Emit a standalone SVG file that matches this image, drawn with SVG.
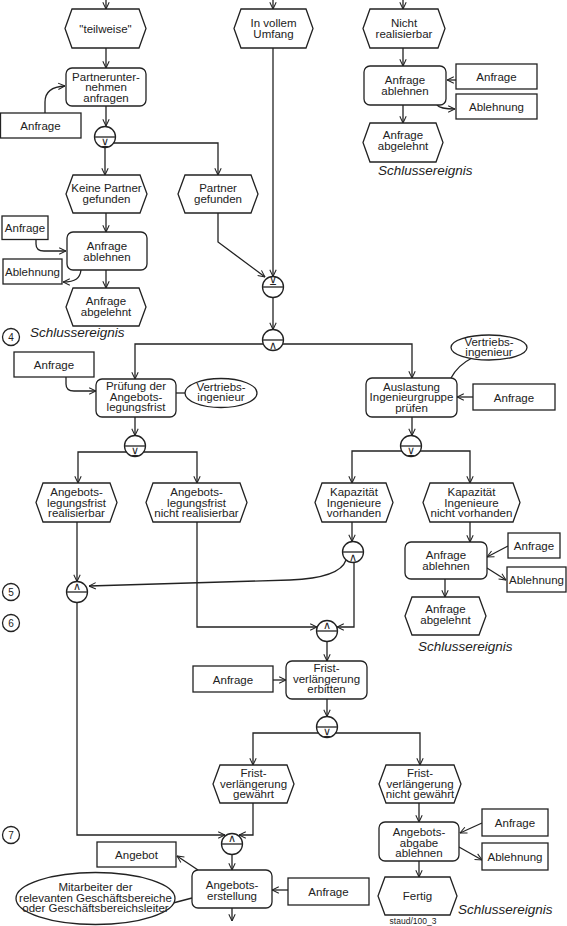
<svg xmlns="http://www.w3.org/2000/svg" width="567" height="926" viewBox="0 0 567 926">
<defs>
<marker id="a" viewBox="0 0 10 10" refX="9.5" refY="5" markerWidth="8" markerHeight="8" orient="auto" markerUnits="userSpaceOnUse"><path d="M1,1 L9.5,5 L1,9" fill="none" stroke="#222" stroke-width="1.3"/></marker>
</defs>
<style>
.s{fill:#fff;stroke:#222;stroke-width:1.3}
.t{font-family:"Liberation Sans",Arial,sans-serif;font-size:11.5px;fill:#222;text-anchor:middle}
.i{font-family:"Liberation Sans",Arial,sans-serif;font-size:13.5px;font-style:italic;fill:#222}
.c{fill:none;stroke:#222;stroke-width:1.3}
.ca{fill:none;stroke:#222;stroke-width:1.3;marker-end:url(#a)}
.sym{font-family:"DejaVu Sans",sans-serif;font-size:11px;fill:#222;text-anchor:middle}
.n{font-family:"Liberation Sans",Arial,sans-serif;font-size:10px;fill:#222;text-anchor:middle}
</style>
<rect width="567" height="926" fill="#fff"/>

<g id="connectors">
<path class="ca" d="M106,0 L106,9"/>
<path class="ca" d="M273,0 L273,9"/>
<path class="ca" d="M403,0 L403,9"/>
<path class="ca" d="M106,48 L106,68"/>
<path class="ca" d="M45,113 L45,102 Q45,87 65,86"/>
<path class="ca" d="M106,106 L106,126"/>
<path class="ca" d="M105,147.5 L105,175"/>
<path class="ca" d="M113.6,143 L218,143 L218,175"/>
<path class="ca" d="M106,213 L106,232"/>
<path class="ca" d="M36,240 L36,244 Q36,251 44,251 L66,251"/>
<path class="ca" d="M81,270 C80,278 76,282 63,282"/>
<path class="ca" d="M106,270 L106,288"/>
<path class="ca" d="M218,213 L218,242 L265,277"/>
<path class="ca" d="M273,48 L273,276.5"/>
<path class="ca" d="M273,297.5 L273,329.5"/>
<path class="ca" d="M263,344 L135,344 L135,379"/>
<path class="ca" d="M283,344 L412,344 L412,378"/>
<path class="ca" d="M66,377 L66,384 Q66,391 74,391 L96,391"/>
<path class="c" d="M176,393 L185,393"/>
<path class="ca" d="M135,417 L135,435.5"/>
<path class="ca" d="M126.4,452 L78,452 L78,483"/>
<path class="ca" d="M143.6,452 L197,452 L197,483"/>
<path class="c" d="M451,378 Q458,365 472,358"/>
<path class="ca" d="M473,397 L457,397"/>
<path class="ca" d="M412,417 L412,435.5"/>
<path class="ca" d="M402,451 L352,451 L352,483"/>
<path class="ca" d="M420,451 L470,451 L470,483"/>
<path class="ca" d="M352,522 L352,541.5"/>
<path class="ca" d="M346,560 Q340,578 290,580 L89,586"/>
<path class="ca" d="M77,522 L77,581.5"/>
<path class="ca" d="M197,522 L197,627 L317,627"/>
<path class="ca" d="M354,562.5 L354,627 L337,627"/>
<path class="ca" d="M470,522 L470,542"/>
<path class="ca" d="M508,546 L487,557"/>
<path class="ca" d="M487,568 L506,580"/>
<path class="ca" d="M445,579 L445,597"/>
<path class="ca" d="M327,641.5 L327,661"/>
<path class="ca" d="M273,680 L286,680"/>
<path class="ca" d="M327,699 L327,716.5"/>
<path class="ca" d="M318.4,733 L253,733 L253,765"/>
<path class="ca" d="M335.6,733 L420,733 L420,765"/>
<path class="ca" d="M77,602.5 L77,835 L225,835"/>
<path class="ca" d="M253,803 L253,835 L239,835"/>
<path class="ca" d="M232,854.5 L232,870"/>
<path class="ca" d="M198,870 L177,856"/>
<path class="c" d="M173,903 L192,898"/>
<path class="ca" d="M232,908 L232,921"/>
<path class="ca" d="M288,890 L272,890"/>
<path class="ca" d="M419,803 L419,822"/>
<path class="ca" d="M482,823 L460,833"/>
<path class="ca" d="M459,847 L482,860"/>
<path class="ca" d="M419,861 L419,877"/>
<path class="ca" d="M403,48 L403,66"/>
<path class="ca" d="M456,80 L447,80"/>
<path class="ca" d="M437,105 Q440,109 455,109"/>
<path class="ca" d="M403,105 L403,123"/>
</g>

<g id="ev-teilweise"><polygon class="s" points="65,28.5 72,9 139,9 146,28.5 139,48 72,48"/><text class="t" x="105.5" y="33">"teilweise"</text></g>
<g id="ev-vollem"><polygon class="s" points="234,28.5 241,9 306,9 313,28.5 306,48 241,48"/><text class="t" x="273.5" y="27">In vollem</text><text class="t" x="273.5" y="37.5">Umfang</text></g>
<g id="ev-nicht"><polygon class="s" points="363,28.5 370,9 438,9 445,28.5 438,48 370,48"/><text class="t" x="404" y="27">Nicht</text><text class="t" x="404" y="37.5">realisierbar</text></g>

<g id="fn-partner"><rect class="s" x="66" y="68" width="80" height="38" rx="6"/><text class="t" x="106" y="80.5">Partnerunter-</text><text class="t" x="106" y="91">nehmen</text><text class="t" x="106" y="101.5">anfragen</text></g>
<g id="in-anfrage1"><rect class="s" x="0.5" y="113" width="80.5" height="25"/><text class="t" x="40.5" y="130">Anfrage</text></g>

<g id="fn-ablehnen-r1"><rect class="s" x="364" y="66" width="82" height="39" rx="6"/><text class="t" x="405" y="84">Anfrage</text><text class="t" x="405" y="94.5">ablehnen</text></g>
<g id="in-anfrage-r1"><rect class="s" x="456" y="64" width="81" height="25"/><text class="t" x="496.5" y="81">Anfrage</text></g>
<g id="out-ablehnung-r1"><rect class="s" x="456" y="94" width="81" height="25"/><text class="t" x="496.5" y="111">Ablehnung</text></g>
<g id="ev-abgelehnt-r1"><polygon class="s" points="363,142.5 370,123 436,123 443,142.5 436,162 370,162"/><text class="t" x="403" y="139">Anfrage</text><text class="t" x="403" y="149.5">abgelehnt</text></g>
<text class="i" x="378" y="175">Schlussereignis</text>

<g id="xor-s1"><circle class="s" cx="105" cy="137" r="10.5"/><path class="c" d="M94.5,137 L115.5,137"/><text class="sym" x="105" y="146.5">⊻</text></g>

<g id="ev-keine"><polygon class="s" points="66,194 73,175 140,175 147,194 140,213 73,213"/><text class="t" x="106.5" y="192">Keine Partner</text><text class="t" x="106.5" y="202.5">gefunden</text></g>
<g id="ev-partner"><polygon class="s" points="178,194 185,175 251,175 258,194 251,213 185,213"/><text class="t" x="218" y="192">Partner</text><text class="t" x="218" y="202.5">gefunden</text></g>
<g id="in-anfrage2"><rect class="s" x="2" y="216" width="46" height="23.5"/><text class="t" x="25" y="231.5">Anfrage</text></g>
<g id="fn-ablehnen-l"><rect class="s" x="67" y="232" width="80" height="38" rx="6"/><text class="t" x="107" y="250">Anfrage</text><text class="t" x="107" y="260.5">ablehnen</text></g>
<g id="out-ablehnung-l"><rect class="s" x="3" y="259" width="59" height="25"/><text class="t" x="32.5" y="276">Ablehnung</text></g>
<g id="ev-abgelehnt-l"><polygon class="s" points="66,307 73,288 139,288 146,307 139,326 73,326"/><text class="t" x="106" y="305">Anfrage</text><text class="t" x="106" y="315.5">abgelehnt</text></g>
<text class="i" x="30" y="337">Schlussereignis</text>
<g id="mark4"><circle class="s" cx="11" cy="337" r="8.5"/><text class="n" x="11" y="340.5">4</text></g>

<g id="xor-j1"><circle class="s" cx="273" cy="287" r="10.5"/><path class="c" d="M262.5,287 L283.5,287"/><text class="sym" x="273" y="285">⊻</text></g>
<g id="and-s2"><circle class="s" cx="273" cy="340" r="10.5"/><path class="c" d="M262.5,340 L283.5,340"/><text class="sym" x="273" y="349">∧</text></g>

<g id="in-anfrage3"><rect class="s" x="14" y="352" width="80" height="25"/><text class="t" x="54" y="369">Anfrage</text></g>
<g id="fn-pruefung"><rect class="s" x="96" y="379" width="80" height="38" rx="6"/><text class="t" x="136" y="390">Prüfung der</text><text class="t" x="136" y="400.5">Angebots-</text><text class="t" x="136" y="411">legungsfrist</text></g>
<g id="org-vi1"><ellipse class="s" cx="221" cy="393" rx="36" ry="14.5"/><text class="t" x="221" y="390.5">Vertriebs-</text><text class="t" x="221" y="401">ingenieur</text></g>

<g id="org-vi2"><ellipse class="s" cx="489" cy="347.5" rx="38" ry="12.5"/><text class="t" x="489" y="345.5">Vertriebs-</text><text class="t" x="489" y="356">ingenieur</text></g>
<g id="fn-auslastung"><rect class="s" x="366" y="378" width="91" height="39" rx="6"/><text class="t" x="411.5" y="390.5">Auslastung</text><text class="t" x="411.5" y="401">Ingenieurgruppe</text><text class="t" x="411.5" y="411.5">prüfen</text></g>
<g id="in-anfrage4"><rect class="s" x="473" y="384" width="82" height="26"/><text class="t" x="514" y="401.5">Anfrage</text></g>

<g id="xor-s3"><circle class="s" cx="135" cy="446" r="10.5"/><path class="c" d="M124.5,446 L145.5,446"/><text class="sym" x="135" y="455.5">⊻</text></g>
<g id="xor-s4"><circle class="s" cx="411" cy="446" r="10.5"/><path class="c" d="M400.5,446 L421.5,446"/><text class="sym" x="411" y="455.5">⊻</text></g>

<g id="ev-realisierbar"><polygon class="s" points="36,502.5 43,483 110,483 117,502.5 110,522 43,522"/><text class="t" x="76.5" y="496">Angebots-</text><text class="t" x="76.5" y="506.5">legungsfrist</text><text class="t" x="76.5" y="517">realisierbar</text></g>
<g id="ev-nicht-realisierbar"><polygon class="s" points="146,502.5 153,483 240,483 247,502.5 240,522 153,522"/><text class="t" x="196.5" y="496">Angebots-</text><text class="t" x="196.5" y="506.5">legungsfrist</text><text class="t" x="196.5" y="517">nicht realisierbar</text></g>
<g id="ev-kap-vorh"><polygon class="s" points="315,502.5 322,483 386,483 393,502.5 386,522 322,522"/><text class="t" x="354" y="496">Kapazität</text><text class="t" x="354" y="506.5">Ingenieure</text><text class="t" x="354" y="517">vorhanden</text></g>
<g id="ev-kap-nicht"><polygon class="s" points="423,502.5 430,483 513,483 520,502.5 513,522 430,522"/><text class="t" x="471.5" y="496">Kapazität</text><text class="t" x="471.5" y="506.5">Ingenieure</text><text class="t" x="471.5" y="517">nicht vorhanden</text></g>

<g id="and-s5"><circle class="s" cx="353" cy="552" r="10.5"/><path class="c" d="M342.5,552 L363.5,552"/><text class="sym" x="353" y="561">∧</text></g>
<g id="fn-ablehnen-r2"><rect class="s" x="405" y="542" width="82" height="37" rx="6"/><text class="t" x="446" y="559">Anfrage</text><text class="t" x="446" y="569.5">ablehnen</text></g>
<g id="in-anfrage-r2"><rect class="s" x="508" y="533" width="52" height="25"/><text class="t" x="534" y="550">Anfrage</text></g>
<g id="out-ablehnung-r2"><rect class="s" x="507" y="567" width="59" height="25"/><text class="t" x="536.5" y="584">Ablehnung</text></g>
<g id="ev-abgelehnt-r2"><polygon class="s" points="405,616 412,597 479,597 486,616 479,635 412,635"/><text class="t" x="445.5" y="613">Anfrage</text><text class="t" x="445.5" y="623.5">abgelehnt</text></g>
<text class="i" x="418" y="651">Schlussereignis</text>

<g id="and-j5"><circle class="s" cx="77" cy="592" r="10.5"/><path class="c" d="M66.5,592 L87.5,592"/><text class="sym" x="77" y="590">∧</text></g>
<g id="mark5"><circle class="s" cx="11" cy="592" r="8.5"/><text class="n" x="11" y="595.5">5</text></g>
<g id="mark6"><circle class="s" cx="11" cy="623" r="8.5"/><text class="n" x="11" y="626.5">6</text></g>
<g id="and-j6"><circle class="s" cx="327" cy="631" r="10.5"/><path class="c" d="M316.5,631 L337.5,631"/><text class="sym" x="327" y="629">∧</text></g>

<g id="in-anfrage5"><rect class="s" x="193" y="666" width="80" height="26"/><text class="t" x="233" y="683.5">Anfrage</text></g>
<g id="fn-frist"><rect class="s" x="286" y="661" width="81" height="38" rx="6"/><text class="t" x="326.5" y="672">Frist-</text><text class="t" x="326.5" y="682.5">verlängerung</text><text class="t" x="326.5" y="693">erbitten</text></g>
<g id="xor-s6"><circle class="s" cx="327" cy="727" r="10.5"/><path class="c" d="M316.5,727 L337.5,727"/><text class="sym" x="327" y="736.5">⊻</text></g>

<g id="ev-gewaehrt"><polygon class="s" points="213,784 220,765 287,765 294,784 287,803 220,803"/><text class="t" x="253.5" y="777">Frist-</text><text class="t" x="253.5" y="787.5">verlängerung</text><text class="t" x="253.5" y="798">gewährt</text></g>
<g id="ev-nicht-gewaehrt"><polygon class="s" points="379,784 386,765 454,765 461,784 454,803 386,803"/><text class="t" x="420" y="777">Frist-</text><text class="t" x="420" y="787.5">verlängerung</text><text class="t" x="420" y="798">nicht gewährt</text></g>

<g id="mark7"><circle class="s" cx="11" cy="835" r="8.5"/><text class="n" x="11" y="838.5">7</text></g>
<g id="and-j7"><circle class="s" cx="232" cy="844" r="10.5"/><path class="c" d="M221.5,844 L242.5,844"/><text class="sym" x="232" y="842">∧</text></g>

<g id="out-angebot"><rect class="s" x="97" y="842" width="79" height="25"/><text class="t" x="136.5" y="859">Angebot</text></g>
<g id="org-mitarbeiter"><ellipse class="s" cx="95.5" cy="898.5" rx="79.5" ry="26"/><text class="t" x="95.5" y="891">Mitarbeiter der</text><text class="t" x="95.5" y="901.5">relevanten Geschäftsbereiche</text><text class="t" x="95.5" y="912">oder Geschäftsbereichsleiter</text></g>
<g id="fn-angebotserstellung"><rect class="s" x="192" y="870" width="80" height="38" rx="6"/><text class="t" x="232" y="889">Angebots-</text><text class="t" x="232" y="899.5">erstellung</text></g>
<g id="in-anfrage7"><rect class="s" x="288" y="878" width="81" height="27"/><text class="t" x="328.5" y="896">Anfrage</text></g>

<g id="fn-abgabe-ablehnen"><rect class="s" x="379" y="822" width="80" height="39" rx="6"/><text class="t" x="419" y="836">Angebots-</text><text class="t" x="419" y="846.5">abgabe</text><text class="t" x="419" y="857">ablehnen</text></g>
<g id="in-anfrage8"><rect class="s" x="482" y="809" width="66" height="27"/><text class="t" x="515" y="827">Anfrage</text></g>
<g id="out-ablehnung8"><rect class="s" x="482" y="843" width="66" height="27"/><text class="t" x="515" y="861">Ablehnung</text></g>
<g id="ev-fertig"><polygon class="s" points="378,896 385,877 450,877 457,896 450,915 385,915"/><text class="t" x="417.5" y="900">Fertig</text></g>
<text class="i" x="458" y="914">Schlussereignis</text>
<text class="t" x="413" y="924" style="font-size:8.5px">staud/100_3</text>
</svg>
